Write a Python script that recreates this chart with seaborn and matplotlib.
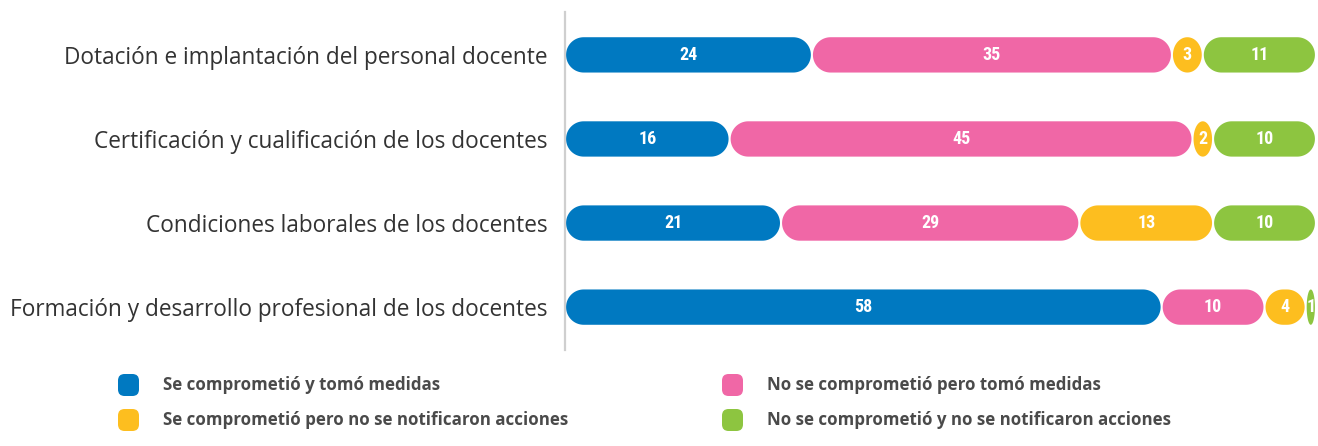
"""
Barras apiladas redondeadas: compromisos y medidas sobre personal docente
"""

import matplotlib
matplotlib.use('Agg')
import matplotlib.pyplot as plt
from matplotlib.patches import FancyBboxPatch, Rectangle, Polygon
import seaborn as sns
import numpy as np
import pandas as pd

# Datos
categorias = [
    'Dotación e implantación del personal docente',
    'Certificación y cualificación de los docentes',
    'Condiciones laborales de los docentes',
    'Formación y desarrollo profesional de los docentes',
]
series = [
    'Se comprometió y tomó medidas',
    'No se comprometió pero tomó medidas',
    'Se comprometió pero no se notificaron acciones',
    'No se comprometió y no se notificaron acciones',
]
comprometio_tomo = [24, 16, 21, 58]
no_comprometio_tomo = [35, 45, 29, 10]
comprometio_sin_acciones = [3, 2, 13, 4]
no_comprometio_sin_acciones = [11, 10, 10, 1]
colores = ['#0079C1', '#F067A6', '#FDBE1F', '#8DC540']

valores = [comprometio_tomo, no_comprometio_tomo,
           comprometio_sin_acciones, no_comprometio_sin_acciones]

sns.set_theme(style='white')
plt.rcParams['font.family'] = ['Open Sans', 'DejaVu Sans']

W, H = 1318, 446
fig = plt.figure(figsize=(W / 100, H / 100), dpi=100)
ax = fig.add_axes([565 / W, 1 - 350 / H, (1318 - 565) / W, (350 - 12) / H])

# barras apiladas: cada serie empieza donde termina la anterior
izquierda = np.zeros(len(categorias))
for nombre, vals, color in zip(series, valores, colores):
    df = pd.DataFrame({'cat': categorias, 'valor': vals})
    sns.barplot(data=df, x='valor', y='cat', orient='h', color=color,
                left=izquierda, width=0.42, ax=ax, saturation=1,
                linewidth=0)
    izquierda = izquierda + np.array(vals)

ax.set_xlim(0, 73.2)
ax.set_ylim(3.51, -0.51)

# escala en pixeles por unidad, para que los extremos sean semicirculos
px_x = ax.get_window_extent().width / (ax.get_xlim()[1] - ax.get_xlim()[0])
px_y = ax.get_window_extent().height / abs(ax.get_ylim()[1] - ax.get_ylim()[0])


def pastilla(x0, y0, w, h):
    """Contorno de una pastilla (rectangulo con extremos redondos) en datos."""
    ry = h / 2
    rx = min(ry * px_y / px_x, w / 2)
    yc = y0 + ry
    t = np.linspace(np.pi / 2, 3 * np.pi / 2, 40)
    izq = np.column_stack([x0 + rx + rx * np.cos(t), yc + ry * np.sin(t)])
    t2 = np.linspace(-np.pi / 2, np.pi / 2, 40)
    der = np.column_stack([x0 + w - rx + rx * np.cos(t2), yc + ry * np.sin(t2)])
    return np.vstack([izq, der])


rects = [p for p in ax.patches if isinstance(p, Rectangle)]
for p in rects:
    x, y, w, h = p.get_x(), p.get_y(), p.get_width(), p.get_height()
    fc = p.get_facecolor()
    p.remove()
    if w <= 0:
        continue
    gap = 0.1
    ax.add_patch(Polygon(pastilla(x + gap, y, w - 2 * gap, h), closed=True,
                         facecolor=fc, edgecolor='none'))
    ax.text(x + w / 2, y + h / 2, f'{int(round(w))}', ha='center', va='center',
            color='white', fontsize=13, fontweight='bold',
            family=['Roboto Condensed', 'Roboto', 'DejaVu Sans'])

ax.set_xlabel('')
ax.set_ylabel('')
ax.set_xticks([])
ax.set_yticks(range(len(categorias)))
ax.set_yticklabels(categorias, fontsize=16.3, color='#333333')
ax.tick_params(axis='y', length=0, pad=12.5)
for lado in ['top', 'right', 'bottom']:
    ax.spines[lado].set_visible(False)
ax.spines['left'].set_color('#cfcfcf')
ax.spines['left'].set_linewidth(1.6)

# leyenda manual en dos columnas
pos_leyenda = [(118, 385), (722, 385), (118, 420), (722, 420)]
for i, (px, py) in enumerate(pos_leyenda):
    cuadro = FancyBboxPatch((px / W, 1 - (py + 11) / H), 21 / W, 22 / H,
                            boxstyle='round,pad=0,rounding_size=0.005',
                            mutation_aspect=W / H, transform=fig.transFigure,
                            facecolor=colores[i], edgecolor='none')
    fig.patches.append(cuadro)
    fig.text((px + 45) / W, 1 - py / H, series[i], ha='left', va='center',
             fontsize=12.2, fontweight='bold', color='#4a4a4a')

fig.savefig('out.png', dpi=100)
